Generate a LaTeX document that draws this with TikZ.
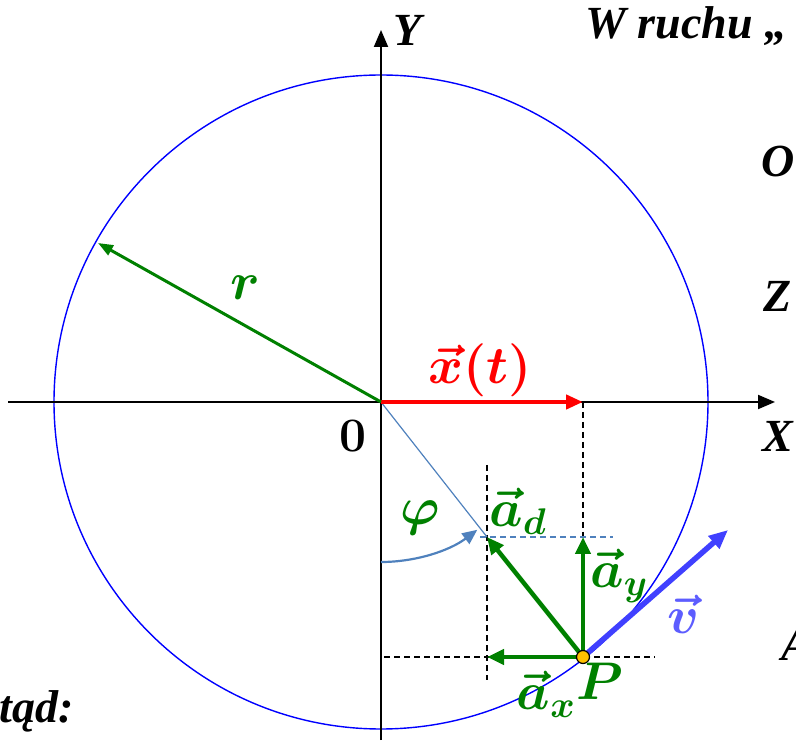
\RequirePackage{fix-cm}
\documentclass[tikz,border=0pt]{standalone}
\usepackage{bm}
\usepackage{fontspec}
\newfontfamily\txtfont{Liberation Serif}
\usetikzlibrary{arrows.meta}
\definecolor{grn}{RGB}{0,128,0}
\definecolor{steel}{RGB}{79,129,189}
\definecolor{vblue}{RGB}{64,64,255}
\definecolor{gold}{RGB}{255,192,0}

\begin{document}
\begin{tikzpicture}[x=1pt,y=1pt,
    lbl/.style={font=\txtfont\fontsize{46}{52}\selectfont\bfseries\itshape, inner sep=0pt},
    mlbl/.style={font=\fontsize{53}{60}\selectfont, inner sep=0pt},
    guide/.style={dash pattern=on 6pt off 4pt, line width=1.3pt},
    axis/.style={-{Triangle[length=17pt,width=14pt]}, line width=2pt},
    vecg/.style={grn, -{Triangle[length=17pt,width=15pt]}, line width=4.5pt}]
    \useasboundingbox (0,0) rectangle (796,740);
    \clip (0,0) rectangle (796,740);
    % points
    \coordinate (O) at (381,338);
    \coordinate (Xl) at (8,338);
    \coordinate (Xr) at (775,338);
    \coordinate (Yb) at (381,0);
    \coordinate (Yt) at (381,710);
    \coordinate (R) at (98,497);
    \coordinate (P) at (583,83);
    \coordinate (Px) at (583,338);
    \coordinate (Ad) at (487,203);
    \coordinate (Ax) at (487,83);
    \coordinate (Ay) at (583,203);
    \coordinate (V) at (728,210);
    \coordinate (phi0) at (381,178);
    \coordinate (Gt) at (487,275);
    \coordinate (Gb) at (487,60);
    \coordinate (Hl) at (384,83);
    \coordinate (Hr) at (655,83);
    \coordinate (Bl) at (480,203);
    \coordinate (Br) at (613,203);
    \draw[blue, line width=1.4pt] (O) circle[radius=327];
    \draw[axis] (Xl) -- (Xr);
    \draw[axis] (Yb) -- (Yt);
    % projections
    \draw[guide] (Px) -- (Ay);
    \draw[guide] (Gt) -- (Gb);
    \draw[guide] (Hl) -- (Hr);
    \draw[guide, steel] (Bl) -- (Br);
    \draw[steel, line width=1.2pt] (O) -- (Ad);
    \draw[steel, line width=2.2pt, -{Triangle[length=15pt,width=13pt]}] (phi0) arc[start angle=-90, end angle=-53, radius=160];
    \draw[red, line width=4.5pt, -{Triangle[length=17pt,width=14pt]}] (O) -- (Px);
    \draw[grn, line width=3pt, -{Triangle[length=15pt,width=11pt]}] (O) -- (R);
    % acceleration and velocity
    \draw[vecg] (P) -- (Ax);
    \draw[vecg] (P) -- (Ay);
    \draw[vecg] (P) -- (Ad);
    \draw[vblue, line width=5.5pt, -{Triangle[length=19pt,width=16pt]}] (P) -- (V);
    \node[circle, fill=gold, draw=black, line width=1.2pt, minimum size=13pt, inner sep=0pt] (Pdot) at (P) {};
    % labels
    \node[lbl] (ylab) at (408,710) {Y};
    \node[lbl] (xlab) at (778,304) {X};
    \node[font=\fontsize{48}{54}\selectfont\bfseries, inner sep=0pt] (zero) at (353,304) {0};
    \node[mlbl, grn] (rlab) at (245,452) {$\bm{r}$};
    \node[mlbl, red] (xtlab) at (480,370) {$\bm{\vec{x}(t)}$};
    \node[mlbl, grn] (philab) at (420,222) {$\bm{\varphi}$};
    \node[mlbl, grn] (adlab) at (518,229) {$\bm{\vec{a}_d}$};
    \node[mlbl, grn] (aylab) at (619,164) {$\bm{\vec{a}_y}$};
    \node[mlbl, grn] (axlab) at (546,46) {$\bm{\vec{a}_x}$};
    \node[mlbl, grn] (plab) at (600,59) {$\bm{P}$};
    \node[mlbl, vblue!85] (vlab) at (683,126) {$\bm{\vec{v}}$};
    % text cut by the frame
    \node[lbl, anchor=base west] (t1) at (585,701) {W ruchu „};
    \node[lbl, anchor=base west] (t2) at (761,563) {O};
    \node[lbl, anchor=base west] (t3) at (763,428) {Z};
    \node[lbl, anchor=base west] (t4) at (781,80) {A};
    \node[lbl, anchor=base east] (t5) at (74,18) {tąd:};
\end{tikzpicture}
\end{document}
